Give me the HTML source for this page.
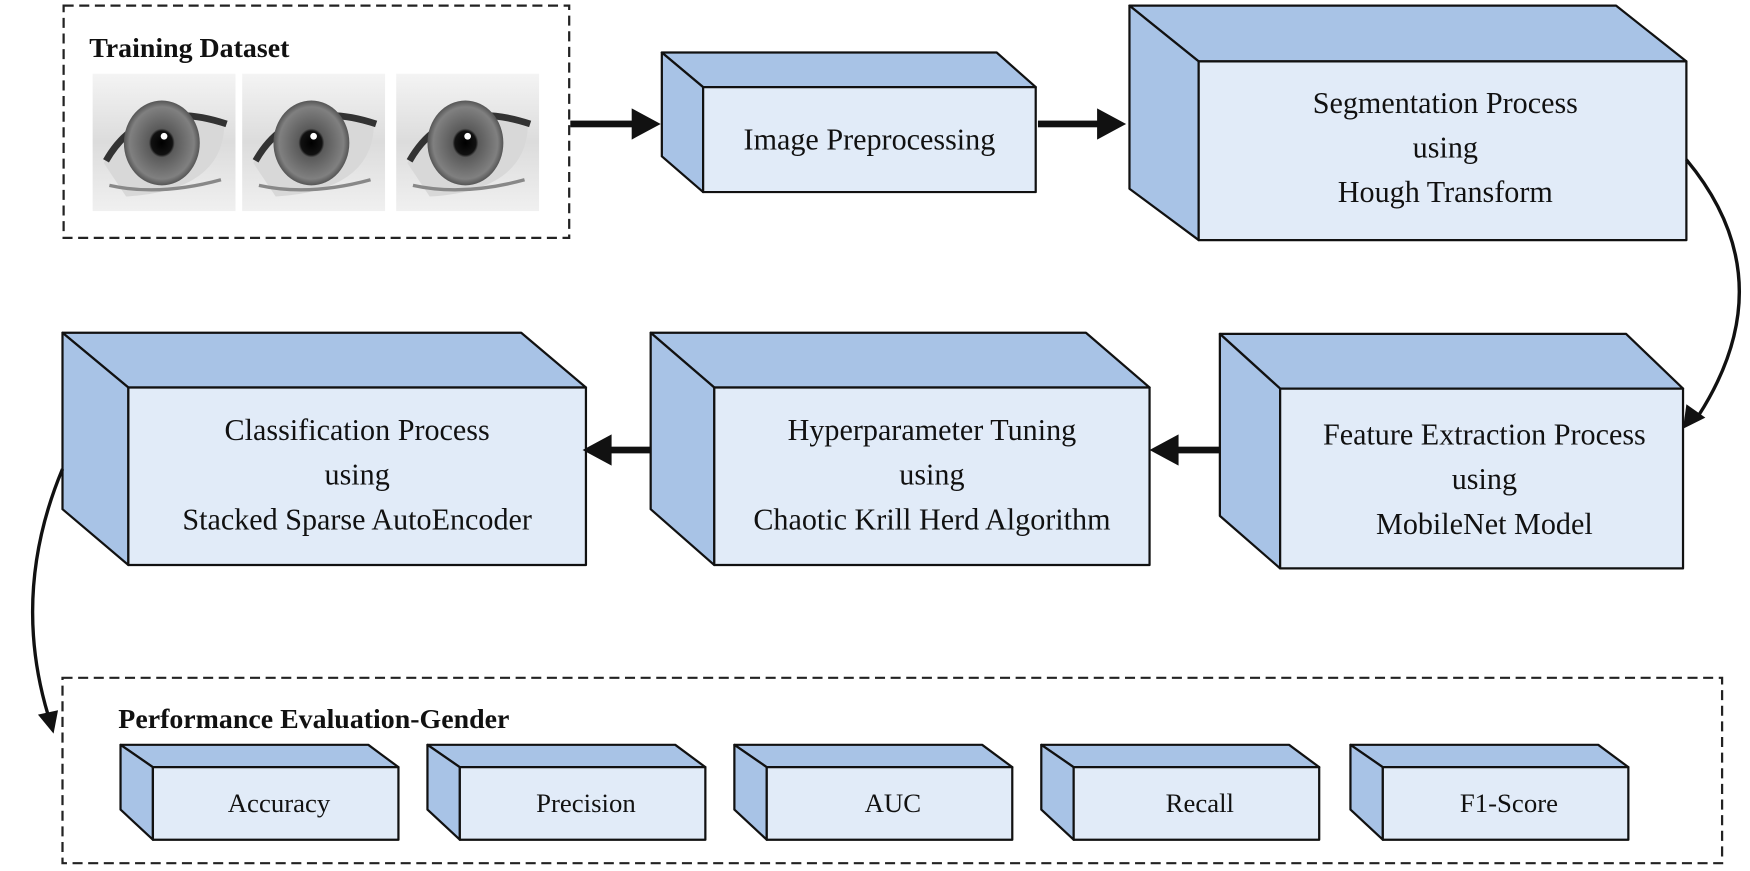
<!DOCTYPE html>
<html><head><meta charset="utf-8"><style>
html,body{margin:0;padding:0;background:#fff;}
svg{display:block;}
text{font-family:"Liberation Serif",serif;fill:#111;}
</style></head><body>
<svg width="1750" height="871" viewBox="0 0 1568 780" preserveAspectRatio="none" xmlns="http://www.w3.org/2000/svg">
<defs>
<radialGradient id="eye" cx="0.5" cy="0.5" r="0.5">
<stop offset="0" stop-color="#000"/><stop offset="0.28" stop-color="#111"/><stop offset="0.34" stop-color="#5a5a5a"/><stop offset="0.85" stop-color="#808080"/><stop offset="1" stop-color="#555"/>
</radialGradient>
<linearGradient id="bg" x1="0" y1="0" x2="0" y2="1"><stop offset="0" stop-color="#f4f4f4"/><stop offset="0.5" stop-color="#dcdcdc"/><stop offset="1" stop-color="#f0f0f0"/></linearGradient>
<g id="eyeimg">
<rect x="0" y="0" width="128" height="123" fill="url(#bg)"/>
<path d="M10,80 Q45,22 118,48 Q115,105 30,110 Z" fill="#d8d8d8"/>
<path d="M12,78 Q45,20 120,45" fill="none" stroke="#333" stroke-width="6"/>
<ellipse cx="62" cy="62" rx="34" ry="38" fill="url(#eye)"/>
<circle cx="64" cy="56" r="3" fill="#fff"/>
<path d="M15,100 Q60,110 115,95" fill="none" stroke="#888" stroke-width="3"/>
</g>
</defs>

<!-- Training dataset -->
<rect x="57" y="5" width="453" height="208" fill="none" stroke="#222" stroke-width="2" stroke-dasharray="9,5"/>
<text x="80" y="51" font-size="25" font-weight="bold">Training Dataset</text>
<use href="#eyeimg" x="83" y="66"/>
<use href="#eyeimg" x="217" y="66"/>
<use href="#eyeimg" x="355" y="66"/>

<g stroke="#111" stroke-width="2" stroke-linejoin="round">
<!-- Image Preprocessing -->
<polygon points="593,47 893,47 928,78 630,78" fill="#a8c3e6"/>
<polygon points="593,47 630,78 630,172 593,140" fill="#a8c3e6"/>
<rect x="630" y="78" width="298" height="94" fill="#e1ebf8"/>
<!-- Segmentation -->
<polygon points="1012,5 1448,5 1511,55 1074,55" fill="#a8c3e6"/>
<polygon points="1012,5 1074,55 1074,215 1012,169" fill="#a8c3e6"/>
<rect x="1074" y="55" width="437" height="160" fill="#e1ebf8"/>
<!-- Feature -->
<polygon points="1093,299 1457,299 1508,348 1147,348" fill="#a8c3e6"/>
<polygon points="1093,299 1147,348 1147,509 1093,462" fill="#a8c3e6"/>
<rect x="1147" y="348" width="361" height="161" fill="#e1ebf8"/>
<!-- Hyper -->
<polygon points="583,298 973,298 1030,347 640,347" fill="#a8c3e6"/>
<polygon points="583,298 640,347 640,506 583,456" fill="#a8c3e6"/>
<rect x="640" y="347" width="390" height="159" fill="#e1ebf8"/>
<!-- Classification -->
<polygon points="56,298 467,298 525,347 115,347" fill="#a8c3e6"/>
<polygon points="56,298 115,347 115,506 56,456" fill="#a8c3e6"/>
<rect x="115" y="347" width="410" height="159" fill="#e1ebf8"/>
</g>

<g font-size="27" text-anchor="middle">
<text x="779" y="134">Image Preprocessing</text>
<text x="1295" y="101">Segmentation Process</text>
<text x="1295" y="141">using</text>
<text x="1295" y="181">Hough Transform</text>
<text x="1330" y="398">Feature Extraction Process</text>
<text x="1330" y="438">using</text>
<text x="1330" y="478">MobileNet Model</text>
<text x="835" y="394">Hyperparameter Tuning</text>
<text x="835" y="434">using</text>
<text x="835" y="474">Chaotic Krill Herd Algorithm</text>
<text x="320" y="394">Classification Process</text>
<text x="320" y="434">using</text>
<text x="320" y="474">Stacked Sparse AutoEncoder</text>
</g>

<!-- Arrows -->
<g fill="#111" stroke="none">
<rect x="511" y="108" width="58" height="6"/><polygon points="566,97 592,111 566,125"/>
<rect x="930" y="108" width="56" height="6"/><polygon points="983,97 1009,111 983,125"/>
<rect x="1053" y="400" width="40" height="6"/><polygon points="1056,389 1030,403 1056,417"/>
<rect x="545" y="400" width="38" height="6"/><polygon points="548,389 522,403 548,417"/>
</g>
<g stroke="#111" fill="none" stroke-width="3">
<path d="M1511,143 Q1600,250 1522,372"/>
<path d="M56,420 Q10,530 43,640"/>
</g>
<polygon points="1508,384 1511,362 1528,374" fill="#111"/>
<polygon points="48,657 34,640 52,636" fill="#111"/>

<!-- Performance -->
<rect x="56" y="607" width="1487" height="166" fill="none" stroke="#222" stroke-width="2" stroke-dasharray="9,5"/>
<text x="106" y="652" font-size="25" font-weight="bold">Performance Evaluation-Gender</text>
<g stroke="#111" stroke-width="2" stroke-linejoin="round">
<g>
<polygon points="108,667 330,667 357,687 137,687" fill="#a8c3e6"/>
<polygon points="108,667 137,687 137,752 108,725" fill="#a8c3e6"/>
<rect x="137" y="687" width="220" height="65" fill="#e1ebf8"/>
</g>
<g transform="translate(275,0)">
<polygon points="108,667 330,667 357,687 137,687" fill="#a8c3e6"/>
<polygon points="108,667 137,687 137,752 108,725" fill="#a8c3e6"/>
<rect x="137" y="687" width="220" height="65" fill="#e1ebf8"/>
</g>
<g transform="translate(550,0)">
<polygon points="108,667 330,667 357,687 137,687" fill="#a8c3e6"/>
<polygon points="108,667 137,687 137,752 108,725" fill="#a8c3e6"/>
<rect x="137" y="687" width="220" height="65" fill="#e1ebf8"/>
</g>
<g transform="translate(825,0)">
<polygon points="108,667 330,667 357,687 137,687" fill="#a8c3e6"/>
<polygon points="108,667 137,687 137,752 108,725" fill="#a8c3e6"/>
<rect x="137" y="687" width="220" height="65" fill="#e1ebf8"/>
</g>
<g transform="translate(1102,0)">
<polygon points="108,667 330,667 357,687 137,687" fill="#a8c3e6"/>
<polygon points="108,667 137,687 137,752 108,725" fill="#a8c3e6"/>
<rect x="137" y="687" width="220" height="65" fill="#e1ebf8"/>
</g>
</g>
<g font-size="24" text-anchor="middle">
<text x="250" y="727">Accuracy</text>
<text x="525" y="727">Precision</text>
<text x="800" y="727">AUC</text>
<text x="1075" y="727">Recall</text>
<text x="1352" y="727">F1-Score</text>
</g>
</svg>
</body></html>
